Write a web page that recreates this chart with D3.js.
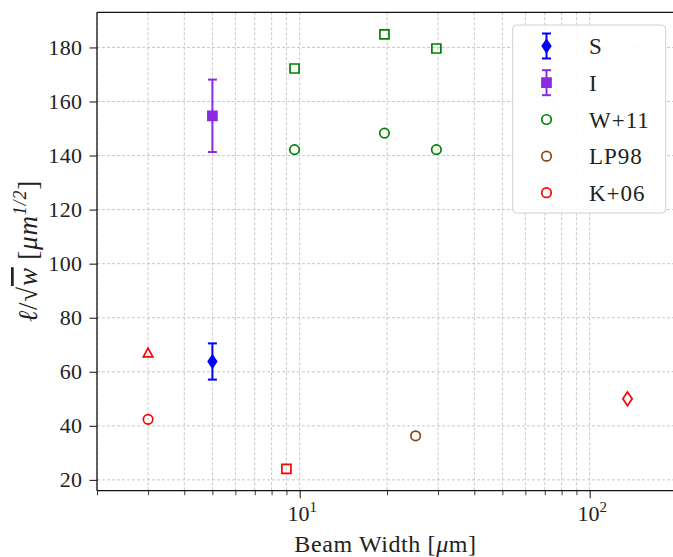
<!DOCTYPE html>
<html><head><meta charset="utf-8">
<script src="https://cdn.jsdelivr.net/npm/d3@7"></script>
<style>
html,body{margin:0;padding:0;background:#fff;}
svg{display:block;}
text{font-family:"Liberation Serif","Times New Roman",serif;fill:#222;}
</style></head>
<body>
<script>
// ---- data ----
const sX = [5], sY = [63.8], sErr = [6.7];
const iX = [5], iY = [154.7], iErr = [13.4];
const w11CircX = [9.6, 19.6, 29.6], w11CircY = [142.2, 148.3, 142.2];
const w11SqX = [9.6, 19.6, 29.6], w11SqY = [172.2, 184.8, 179.6];
const lp98X = [25.1], lp98Y = [36.3];
const k06CircX = [3], k06CircY = [42.4];
const k06TriX = [3], k06TriY = [66.9];
const k06SqX = [9.0], k06SqY = [24.1];
const k06DiaX = [135], k06DiaY = [50];
const yTicks = [20, 40, 60, 80, 100, 120, 140, 160, 180];
const xMajor = [10, 100];
const legendLabels = ["S", "I", "W+11", "LP98", "K+06"];

const W = 673, H = 557;
const svg = d3.select("body").append("svg").attr("width", W).attr("height", H);
const L = 97, R = 677, T = 12.3, B = 490.7;
const x = d3.scaleLog().domain([2, 200]).range([L, R]);
const y = d3.scaleLinear().domain([16, 193]).range([B, T]);

const xMinor = [];
[1, 10, 100].forEach(d => { for (let k = 2; k <= 9; k++) { const v = d * k; if (v >= 2 && v <= 200 && v !== 10 && v !== 100) xMinor.push(v); } });
xMinor.push(200);

// grid
const grid = svg.append("g").attr("stroke", "#b0b0b0").attr("stroke-width", 0.8).attr("stroke-dasharray", "3,2").attr("opacity", 0.85);
grid.selectAll(".gx").data(xMajor.concat(xMinor)).join("line")
  .attr("x1", d => x(d)).attr("x2", d => x(d)).attr("y1", T).attr("y2", B);
grid.selectAll(".gy").data(yTicks).join("line")
  .attr("x1", L).attr("x2", R).attr("y1", d => y(d)).attr("y2", d => y(d));

// axes via d3
const fs = 22;
const yAxis = svg.append("g").attr("transform", `translate(${L},0)`)
  .call(d3.axisLeft(y).tickValues(yTicks).tickSize(7.5).tickPadding(7).tickFormat(d3.format("d")));
yAxis.select(".domain").remove();
yAxis.selectAll("line").attr("stroke", "#222").attr("stroke-width", 1.1);
yAxis.selectAll("text").attr("font-size", fs).attr("font-family", "Liberation Serif").attr("fill", "#222").attr("letter-spacing", 0.4);

const xAxisMinor = svg.append("g").attr("transform", `translate(0,${B})`)
  .call(d3.axisBottom(x).tickValues(xMinor).tickSize(4.5).tickFormat(""));
xAxisMinor.select(".domain").remove();
xAxisMinor.selectAll("line").attr("stroke", "#222").attr("stroke-width", 0.9);

const xAxis = svg.append("g").attr("transform", `translate(0,${B})`)
  .call(d3.axisBottom(x).tickValues(xMajor).tickSize(7.5).tickFormat(""));
xAxis.select(".domain").remove();
xAxis.selectAll("line").attr("stroke", "#222").attr("stroke-width", 1.1);
xAxis.selectAll(".tick").each(function(d) {
  const t = d3.select(this).append("text").attr("x", 2).attr("y", 30).attr("text-anchor", "middle").attr("fill", "#222").attr("font-size", fs);
  t.append("tspan").text("10");
  t.append("tspan").attr("font-size", 15).attr("dy", -9).text(String(Math.round(Math.log10(d))));
});

// spines
svg.append("line").attr("x1", L).attr("x2", R).attr("y1", T).attr("y2", T).attr("stroke", "#111").attr("stroke-width", 1.3);
svg.append("line").attr("x1", L).attr("x2", R).attr("y1", B).attr("y2", B).attr("stroke", "#111").attr("stroke-width", 1.3);
svg.append("line").attr("x1", L).attr("x2", L).attr("y1", T).attr("y2", B).attr("stroke", "#111").attr("stroke-width", 1.3);

// marker shapes
function shape(type, s) {
  const h = s / 2;
  if (type === "square") return `M${-h},${-h}H${h}V${h}H${-h}Z`;
  if (type === "thindiamond") return `M0,${-s*0.62}L${s*0.42},0L0,${s*0.62}L${-s*0.42},0Z`;
  if (type === "triangle") return `M0,${-h*1.05}L${h},${h*0.8}L${-h},${h*0.8}Z`;
}
function drawMarker(g, type, cx, cy, color, filled, s) {
  if (type === "circle") {
    g.append("circle").attr("cx", cx).attr("cy", cy).attr("r", s / 2)
      .attr("fill", filled ? color : "none").attr("stroke", color).attr("stroke-width", 1.7);
  } else {
    g.append("path").attr("d", shape(type, s)).attr("transform", `translate(${cx},${cy})`)
      .attr("fill", filled ? color : "none").attr("stroke", color).attr("stroke-width", 1.7).attr("stroke-linejoin", "miter");
  }
}
function errorbar(g, cx, cy0, cy1, color) {
  g.append("line").attr("x1", cx).attr("x2", cx).attr("y1", cy0).attr("y2", cy1).attr("stroke", color).attr("stroke-width", 2);
  [cy0, cy1].forEach(v => g.append("line").attr("x1", cx - 4.5).attr("x2", cx + 4.5).attr("y1", v).attr("y2", v).attr("stroke", color).attr("stroke-width", 2));
}

const marks = svg.append("g");
const blue = "#0000ff", purple = "#8a2be2", green = "#008000", brown = "#8b4513", red = "#ff0000";
sX.forEach((d, i) => { errorbar(marks, x(d), y(sY[i] - sErr[i]), y(sY[i] + sErr[i]), blue); drawMarker(marks, "thindiamond", x(d), y(sY[i]), blue, true, 10); });
iX.forEach((d, i) => { errorbar(marks, x(d), y(iY[i] - iErr[i]), y(iY[i] + iErr[i]), purple); drawMarker(marks, "square", x(d), y(iY[i]), purple, true, 9); });
w11CircX.forEach((d, i) => drawMarker(marks, "circle", x(d), y(w11CircY[i]), green, false, 9.5));
w11SqX.forEach((d, i) => drawMarker(marks, "square", x(d), y(w11SqY[i]), green, false, 9));
lp98X.forEach((d, i) => drawMarker(marks, "circle", x(d), y(lp98Y[i]), brown, false, 9.5));
k06CircX.forEach((d, i) => drawMarker(marks, "circle", x(d), y(k06CircY[i]), red, false, 9.5));
k06TriX.forEach((d, i) => drawMarker(marks, "triangle", x(d), y(k06TriY[i]), red, false, 9.5));
k06SqX.forEach((d, i) => drawMarker(marks, "square", x(d), y(k06SqY[i]), red, false, 9));
k06DiaX.forEach((d, i) => drawMarker(marks, "thindiamond", x(d), y(k06DiaY[i]), red, false, 11));

// legend
const lg = svg.append("g");
lg.append("rect").attr("x", 512.7).attr("y", 25).attr("width", 153).attr("height", 188).attr("rx", 4)
  .attr("fill", "#fff").attr("fill-opacity", 0.9).attr("stroke", "#d0d0d0").attr("stroke-width", 1);
const legY = [46, 82.7, 119.5, 156.2, 192.7];
const legendStyles = [
  {type: "thindiamond", color: blue, filled: true, err: true, s: 10},
  {type: "square", color: purple, filled: true, err: true, s: 9},
  {type: "circle", color: green, filled: false, s: 9.5},
  {type: "circle", color: brown, filled: false, s: 9.5},
  {type: "circle", color: red, filled: false, s: 9.5}
];
legendLabels.forEach((lab, i) => {
  const st = legendStyles[i], cy = legY[i], cx = 546.5;
  if (st.err) errorbar(lg, cx, cy - 12.5, cy + 12.5, st.color);
  drawMarker(lg, st.type, cx, cy, st.color, st.filled, st.s);
  lg.append("text").attr("x", 589).attr("y", cy + 8).attr("font-size", 23).attr("letter-spacing", 1).text(lab);
});

// axis labels
const xl = svg.append("text").attr("x", 385.5).attr("y", 552).attr("text-anchor", "middle").attr("font-size", 24).attr("letter-spacing", 0.6);
xl.append("tspan").text("Beam Width [");
xl.append("tspan").attr("font-style", "italic").text("μ");
xl.append("tspan").text("m]");

const yl = svg.append("text").attr("transform", `translate(37,251) rotate(-90)`).attr("text-anchor", "middle").attr("font-size", 27).attr("letter-spacing", 0.8);
yl.append("tspan").attr("font-style", "italic").text("ℓ");
yl.append("tspan").text("/√");
yl.append("tspan").attr("font-style", "italic").attr("text-decoration", "overline").text("w");
yl.append("tspan").text(" [");
yl.append("tspan").attr("font-style", "italic").text("μm");
yl.append("tspan").attr("font-style", "italic").attr("font-size", 18).attr("dy", -11).text("1/2");
yl.append("tspan").attr("dy", 11).text("]");
</script>
</body></html>
